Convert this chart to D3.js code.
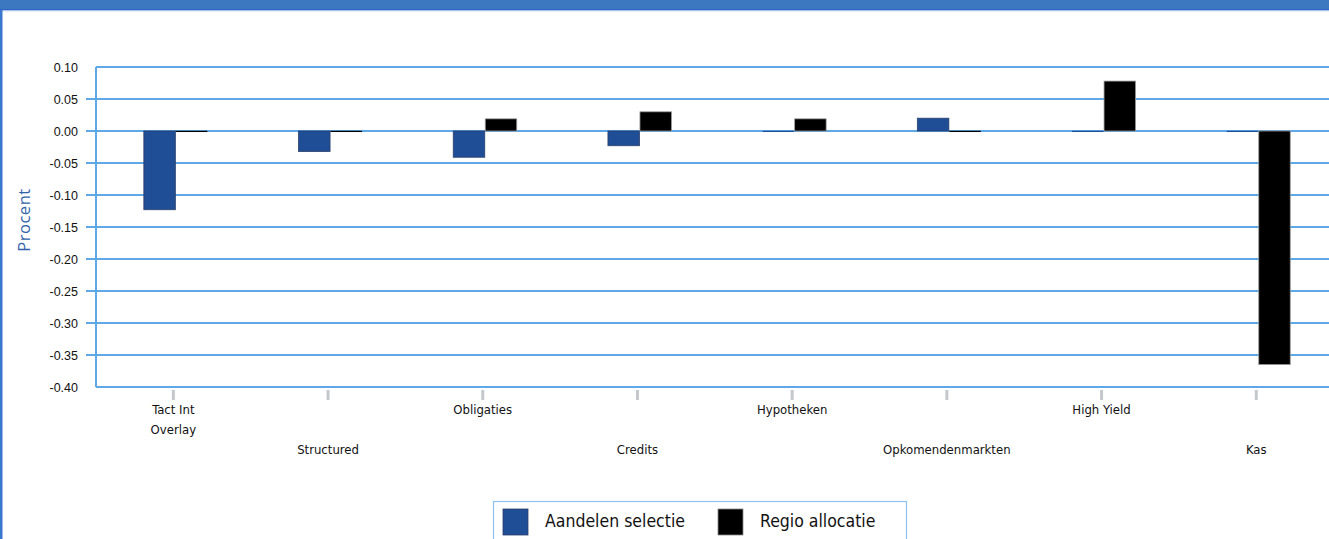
<!DOCTYPE html>
<html><head><meta charset="utf-8">
<script src="https://cdn.jsdelivr.net/npm/d3@7"></script>
<style>body{margin:0;background:#fff;overflow:hidden}svg{display:block}</style>
</head><body>
<svg id="c" width="1329" height="539"></svg>
<script>
const categories = ["Tact Int\nOverlay","Structured","Obligaties","Credits","Hypotheken","Opkomendenmarkten","High Yield","Kas"];
const aandelenSelectie = [-0.123, -0.032, -0.041, -0.023, 0.0003, 0.02, 0.0003, 0.0003];
const regioAllocatie   = [0.0003, 0.0003, 0.019, 0.03, 0.019, 0.0003, 0.078, -0.365];
const yTicks = [0.10,0.05,0.00,-0.05,-0.10,-0.15,-0.20,-0.25,-0.30,-0.35,-0.40];
const seriesNames = ["Aandelen selectie","Regio allocatie"];
const seriesColors = ["#1f4e96","#000000"];
const seriesStroke = ["#2b3f6a","#9a9a9a"];

(function(){
const svg = d3.select("#c");
// header band & frame
svg.append("rect").attr("x",0).attr("y",0).attr("width",1329).attr("height",10).attr("fill","#3b78c0");
svg.append("rect").attr("x",0).attr("y",9).attr("width",1329).attr("height",1.5).attr("fill","#2f64c8");
svg.append("rect").attr("x",0).attr("y",10.5).attr("width",1329).attr("height",1).attr("fill","#c9dcf3");
svg.append("rect").attr("x",0).attr("y",10).attr("width",2.5).attr("height",529).attr("fill","#3a78d0");

const pLeft = 96, pTop = 67, pBottom = 387;
const x = d3.scaleBand().domain(d3.range(categories.length)).range([pLeft, pLeft + 8*154.7]);
const y = d3.scaleLinear().domain([-0.40, 0.10]).range([pBottom, pTop]);

// gridlines
const g = svg.append("g");
yTicks.forEach(t => {
  const ext = (t === 0.10 || t === -0.40) ? 0 : 10;
  g.append("line").attr("x1", pLeft - ext).attr("x2", 1329).attr("y1", Math.round(y(t))).attr("y2", Math.round(y(t)))
    .attr("stroke", "#5fa8e8").attr("stroke-width", 2);
});
g.append("line").attr("x1", pLeft).attr("x2", pLeft).attr("y1", pTop).attr("y2", pBottom)
  .attr("stroke","#5fa8e8").attr("stroke-width",2);

// y tick labels
svg.append("g").selectAll("text").data(yTicks).join("text")
  .attr("x", 78).attr("y", d => y(d) + 4.5).attr("text-anchor","end")
  .attr("font-family","Liberation Sans, Arial, sans-serif").attr("font-size",12.5).attr("fill","#111")
  .text(d => d3.format(".2f")(d).replace("−","-"));

// y axis title
svg.append("text").attr("transform","translate(30,220) rotate(-90)").attr("text-anchor","middle")
  .attr("font-family","Open Sans, DejaVu Sans, sans-serif").attr("font-size",16.5).attr("fill","#3263a8")
  .attr("letter-spacing","0.5").text("Procent");

// category ticks
svg.append("g").selectAll("line").data(categories).join("line")
  .attr("x1",(d,i)=>x(i)+x.bandwidth()/2).attr("x2",(d,i)=>x(i)+x.bandwidth()/2)
  .attr("y1",pBottom+3).attr("y2",pBottom+13).attr("stroke","#c4c8cc").attr("stroke-width",3);

// category labels
const lab = svg.append("g").attr("font-family","DejaVu Sans Condensed, DejaVu Sans, sans-serif")
  .attr("font-size",13).attr("fill","#111").attr("text-anchor","middle");
categories.forEach((c,i) => {
  const cx = x(i) + x.bandwidth()/2;
  const baseY = (i % 2 === 0) ? 414 : 454;
  c.split("\n").forEach((line,j) => {
    lab.append("text").attr("x",cx).attr("y",baseY + j*20).text(line);
  });
});

// bars
const data = [aandelenSelectie, regioAllocatie];
const bw = 31.5;
const offsets = [-29.5, 2.5];
data.forEach((vals, s) => {
  svg.append("g").selectAll("rect").data(vals).join("rect")
    .attr("x",(d,i)=>x(i)+x.bandwidth()/2+offsets[s])
    .attr("width",bw)
    .attr("y",d=>Math.min(y(d),y(0)))
    .attr("height",d=>Math.max(1.2,Math.abs(y(d)-y(0))))
    .attr("fill",seriesColors[s])
    .attr("stroke",seriesStroke[s]).attr("stroke-width",d=>Math.abs(d)<0.001?0:0.8);
});

// legend
const lg = svg.append("g");
lg.append("rect").attr("x",493.5).attr("y",501.5).attr("width",413).attr("height",40)
  .attr("fill","#fff").attr("stroke","#8fc0ec").attr("stroke-width",1.2);
const lx = [503, 718];
seriesNames.forEach((n,s)=>{
  lg.append("rect").attr("x",lx[s]).attr("y",509).attr("width",25).attr("height",26)
    .attr("fill",seriesColors[s]).attr("stroke",s===0?"#2b3f6a":"#888").attr("stroke-width",0.8);
  lg.append("text").attr("x",lx[s]+42).attr("y",527).attr("font-family","DejaVu Sans Condensed, DejaVu Sans, sans-serif")
    .attr("font-size",17.5).attr("fill","#111").text(n);
});
})();
</script>
</body></html>
